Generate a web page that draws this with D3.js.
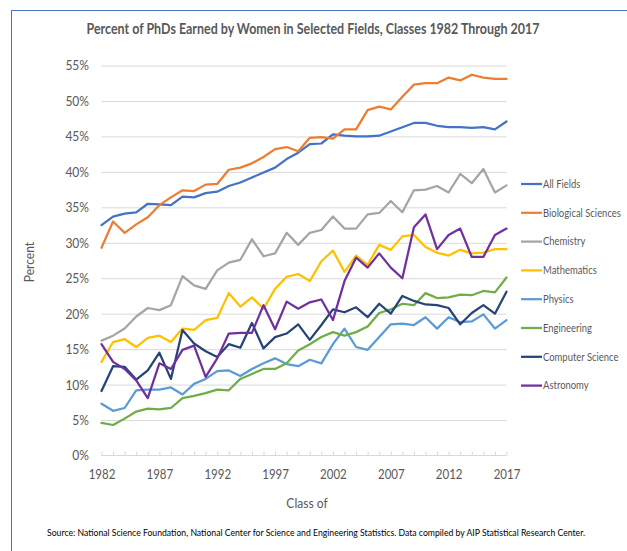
<!DOCTYPE html>
<html>
<head>
<meta charset="utf-8">
<script src="https://cdn.jsdelivr.net/npm/d3@7"></script>
<style>
  body { margin: 0; background: #fff; }
  svg { display: block; }
  text { font-family: Lato, "Open Sans", sans-serif; fill: #595959; }
</style>
</head>
<body>
<svg id="chart"></svg>
<script>
// years 1982..2017
var years = d3.range(1982, 2018);

var allFields = [32.5, 33.7, 34.1, 34.3, 35.5, 35.4, 35.3, 36.5, 36.4, 37.0, 37.2, 38.0, 38.5, 39.2, 39.9, 40.6, 41.8, 42.7, 43.9, 44.0, 45.3, 45.1, 45.0, 45.0, 45.1, 45.7, 46.3, 46.9, 46.9, 46.5, 46.3, 46.3, 46.2, 46.3, 46.0, 47.1];
var biological = [29.3, 33.0, 31.4, 32.6, 33.6, 35.3, 36.4, 37.4, 37.3, 38.2, 38.3, 40.3, 40.6, 41.2, 42.1, 43.2, 43.5, 42.9, 44.8, 44.9, 44.7, 46.0, 46.0, 48.7, 49.2, 48.8, 50.6, 52.3, 52.5, 52.5, 53.3, 52.9, 53.7, 53.3, 53.1, 53.1];
var chemistry = [16.2, 16.9, 17.9, 19.6, 20.8, 20.5, 21.2, 25.3, 24.0, 23.5, 26.1, 27.2, 27.6, 30.5, 28.1, 28.5, 31.4, 29.7, 31.4, 31.8, 33.7, 32.0, 32.0, 34.0, 34.2, 35.9, 34.3, 37.4, 37.5, 38.0, 37.1, 39.7, 38.4, 40.4, 37.1, 38.1];
var mathematics = [13.2, 16.0, 16.4, 15.3, 16.6, 16.9, 16.0, 17.9, 17.7, 19.1, 19.4, 22.9, 21.0, 22.3, 20.7, 23.5, 25.2, 25.6, 24.6, 27.4, 28.9, 25.9, 28.2, 26.9, 29.7, 29.0, 30.9, 31.1, 29.4, 28.6, 28.2, 29.0, 28.5, 28.6, 29.1, 29.1];
var physics = [7.3, 6.3, 6.7, 9.2, 9.3, 9.3, 9.6, 8.6, 10.1, 10.8, 11.9, 12.0, 11.2, 12.2, 13.0, 13.7, 12.9, 12.6, 13.5, 13.0, 15.7, 17.9, 15.3, 14.9, 16.7, 18.5, 18.6, 18.4, 19.5, 17.9, 19.5, 18.8, 18.9, 19.9, 17.9, 19.1];
var engineering = [4.6, 4.3, 5.2, 6.2, 6.6, 6.5, 6.7, 8.1, 8.4, 8.8, 9.3, 9.2, 10.8, 11.5, 12.2, 12.2, 13.0, 14.8, 15.7, 16.7, 17.4, 16.9, 17.4, 18.2, 20.1, 20.6, 21.4, 21.2, 22.9, 22.2, 22.3, 22.7, 22.6, 23.2, 23.0, 25.1];
var computerScience = [9.1, 12.6, 12.5, 10.7, 12.0, 14.5, 10.8, 17.7, 15.8, 14.7, 13.9, 15.7, 15.2, 18.7, 15.1, 16.7, 17.2, 18.5, 16.3, 18.4, 20.6, 20.2, 20.9, 19.5, 21.4, 20.0, 22.5, 21.8, 21.3, 21.2, 20.8, 18.5, 20.1, 21.2, 20.0, 23.1];
var astronomy = [15.7, 13.2, 12.2, 10.6, 8.1, 13.0, 12.2, 14.9, 15.5, 11.1, 13.7, 17.2, 17.3, 17.3, 21.2, 17.8, 21.7, 20.7, 21.6, 22.0, 19.1, 24.6, 27.9, 26.5, 28.5, 26.5, 25.0, 32.2, 34.0, 29.1, 31.1, 32.0, 28.0, 28.0, 31.1, 32.0];

var seriesNames = ["All Fields", "Biological Sciences", "Chemistry", "Mathematics", "Physics", "Engineering", "Computer Science", "Astronomy"];
var seriesColors = ["#4472C4", "#ED7D31", "#A5A5A5", "#FFC000", "#5B9BD5", "#70AD47", "#264478", "#7030A0"];
var seriesValues = [allFields, biological, chemistry, mathematics, physics, engineering, computerScience, astronomy];

var yTicks = d3.range(0, 56, 5);
var xLabelYears = [1982, 1987, 1992, 1997, 2002, 2007, 2012, 2017];

var width = 627, height = 551;

// squeeze a text sideways so Lato looks like the narrow original font
function condense(sel, k) {
    sel.each(function() {
        var w = this.getComputedTextLength();
        d3.select(this)
            .attr("textLength", w * k)
            .attr("lengthAdjust", "spacingAndGlyphs");
    });
}

var svg = d3.select("#chart")
    .attr("width", width)
    .attr("height", height);

// outer frame (only top and left edge visible in the crop)
svg.append("rect")
    .attr("x", 11.5)
    .attr("y", 10.5)
    .attr("width", 700)
    .attr("height", 700)
    .attr("fill", "none")
    .attr("stroke", "#4472C4")
    .attr("stroke-width", 1);

var x = d3.scaleLinear()
    .domain([1982, 2017])
    .range([101.5, 506.5]);

var y = d3.scaleLinear()
    .domain([0, 55])
    .range([455.5, 65.5]);

// gridlines
svg.append("g")
    .attr("transform", "translate(" + x(1982) + ",0)")
    .call(d3.axisLeft(y).tickValues(yTicks.slice(1)).tickSize(-(x(2017) - x(1982))).tickFormat(""))
    .call(function(g) { g.select(".domain").remove(); })
    .selectAll("line")
    .attr("stroke", "#D9D9D9")
    .attr("stroke-width", 1);

// y labels
svg.append("g")
    .attr("transform", "translate(89,0)")
    .call(d3.axisLeft(y).tickValues(yTicks).tickSize(0).tickPadding(0).tickFormat(function(d) { return d + "%"; }))
    .call(function(g) { g.select(".domain").remove(); })
    .selectAll("text")
    .attr("font-size", "14px")
    .attr("fill", "#595959")
    .call(condense, 0.86);

// x axis line with inside ticks
svg.append("g")
    .attr("transform", "translate(0," + y(0) + ")")
    .call(d3.axisBottom(x).tickValues(years).tickSize(-4).tickFormat(""))
    .call(function(g) {
        g.select(".domain").attr("stroke", "#D9D9D9").attr("d", "M" + x(1982) + ",0H" + x(2017));
        g.selectAll("line").attr("stroke", "#D9D9D9");
    });

// x labels
svg.append("g")
    .attr("transform", "translate(0," + (y(0) + 14) + ")")
    .call(d3.axisBottom(x).tickValues(xLabelYears).tickSize(0).tickPadding(0).tickFormat(d3.format("d")))
    .call(function(g) { g.select(".domain").remove(); })
    .selectAll("text")
    .attr("font-size", "14px")
    .attr("fill", "#595959")
    .call(condense, 0.82);

// lines
var line = d3.line()
    .x(function(d, i) { return x(years[i]); })
    .y(function(d) { return y(d); });

seriesValues.forEach(function(vals, k) {
    svg.append("path")
        .datum(vals)
        .attr("fill", "none")
        .attr("stroke", seriesColors[k])
        .attr("stroke-width", 2.25)
        .attr("stroke-linejoin", "round")
        .attr("stroke-linecap", "round")
        .attr("d", line);
});

// legend - labels squeezed with a transform so the box stays inside the page
var legend = svg.append("g");
seriesNames.forEach(function(name, k) {
    var ly = 184 + k * 28.8;
    legend.append("line")
        .attr("x1", 521).attr("x2", 542)
        .attr("y1", ly).attr("y2", ly)
        .attr("stroke", seriesColors[k])
        .attr("stroke-width", 2.25);
    legend.append("text")
        .attr("transform", "translate(543," + ly + ") scale(0.86,1)")
        .attr("dy", "0.35em")
        .attr("font-size", "11px")
        .text(name);
});

// title
svg.append("text")
    .attr("x", 313)
    .attr("y", 34)
    .attr("text-anchor", "middle")
    .attr("font-size", "14.5px")
    .attr("font-weight", "bold")
    .attr("textLength", 453)
    .attr("lengthAdjust", "spacingAndGlyphs")
    .text("Percent of PhDs Earned by Women in Selected Fields, Classes 1982 Through 2017");

// axis titles
svg.append("text")
    .attr("transform", "translate(34,262) rotate(-90)")
    .attr("text-anchor", "middle")
    .attr("font-size", "14px")
    .text("Percent")
    .call(condense, 0.86);

svg.append("text")
    .attr("x", 307)
    .attr("y", 508)
    .attr("text-anchor", "middle")
    .attr("font-size", "14px")
    .text("Class of")
    .call(condense, 0.86);

// source
svg.append("text")
    .attr("x", 316)
    .attr("y", 536)
    .attr("text-anchor", "middle")
    .attr("font-size", "8.8px")
    .style("fill", "#000")
    .attr("textLength", 538)
    .attr("lengthAdjust", "spacingAndGlyphs")
    .text("Source: National Science Foundation, National Center for Science and Engineering Statistics. Data compiled by AIP Statistical Research Center.");
</script>
</body>
</html>
